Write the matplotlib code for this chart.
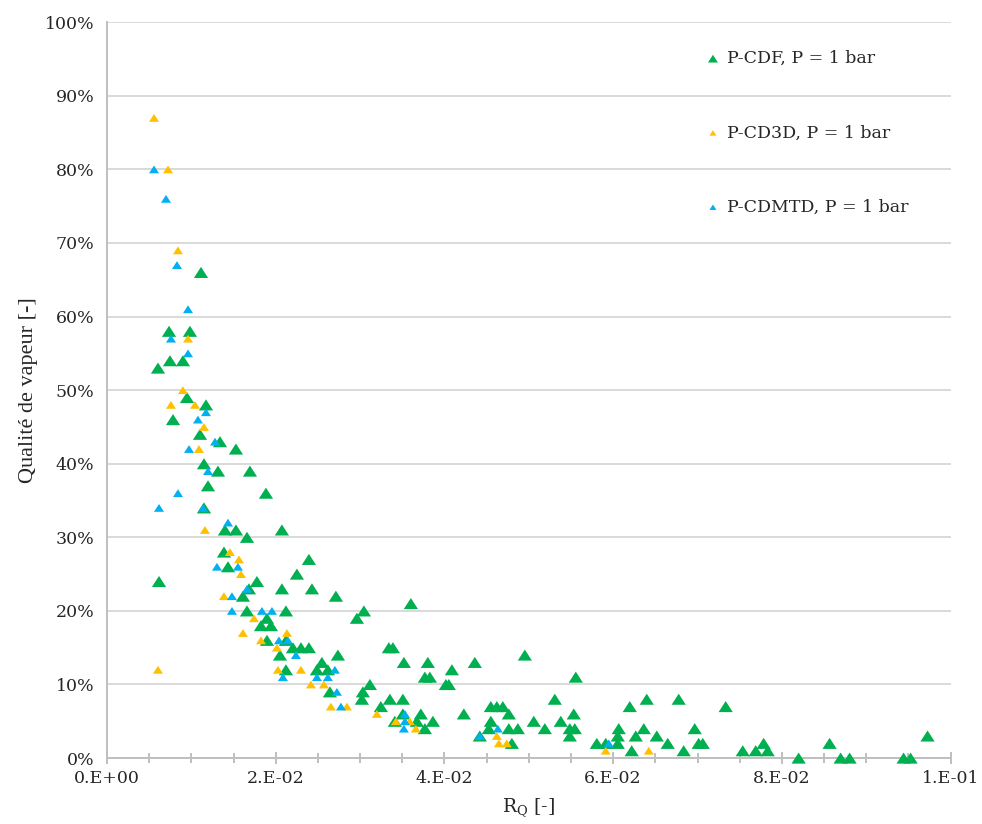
import numpy as np
import matplotlib
matplotlib.use("Agg")
import matplotlib.pyplot as plt
from matplotlib.path import Path
from matplotlib.ticker import MultipleLocator, FixedLocator, PercentFormatter

plt.rcParams['font.family'] = ['DejaVu Serif']
plt.rcParams['mathtext.fontset'] = 'dejavuserif'

# P-CDF, P = 1 bar  (x = R_Q, y = quality in %)
cdf_x = [0.01114, 0.00735, 0.00983, 0.00746, 0.00900, 0.00604, 0.00948, 0.01173, 0.00782, 0.01102,
         0.01339, 0.01528, 0.01149, 0.01315, 0.01694, 0.01197, 0.01884, 0.01149, 0.01398, 0.01528,
         0.02073, 0.01659, 0.01386, 0.01434, 0.02393, 0.00616, 0.01777, 0.02251, 0.01611, 0.02713,
         0.01682, 0.02073, 0.02429, 0.01659, 0.02121, 0.03045, 0.02962, 0.01896, 0.01825, 0.01943,
         0.03602, 0.01896, 0.02121, 0.02204, 0.02299, 0.02393, 0.03341, 0.03389, 0.02050, 0.02737,
         0.04953, 0.02547, 0.03519, 0.03803, 0.04360, 0.02121, 0.02488, 0.02618, 0.04088, 0.03768,
         0.03827, 0.05557, 0.03116, 0.04017, 0.04052, 0.02642, 0.03033, 0.03021, 0.03353, 0.03507,
         0.05308, 0.06398, 0.06777, 0.03246, 0.04550, 0.04621, 0.04692, 0.06197, 0.07334, 0.03507,
         0.03720, 0.04230, 0.04763, 0.05533, 0.03412, 0.03673, 0.03863, 0.04550, 0.05059, 0.05379,
         0.03768, 0.04526, 0.04763, 0.04870, 0.05190, 0.05486, 0.05545, 0.06066, 0.06363, 0.06967,
         0.04419, 0.05486, 0.06055, 0.06268, 0.06517, 0.09727, 0.04799, 0.05806, 0.05912, 0.06055,
         0.06647, 0.07014, 0.07062, 0.07784, 0.08566, 0.06220, 0.06836, 0.07536, 0.07690, 0.07832,
         0.08199, 0.08697, 0.08803, 0.09443, 0.09526]
cdf_y = [66, 58, 58, 54, 54, 53, 49, 48, 46, 44,
         43, 42, 40, 39, 39, 37, 36, 34, 31, 31,
         31, 30, 28, 26, 27, 24, 24, 25, 22, 22,
         23, 23, 23, 20, 20, 20, 19, 19, 18, 18,
         21, 16, 16, 15, 15, 15, 15, 15, 14, 14,
         14, 13, 13, 13, 13, 12, 12, 12, 12, 11,
         11, 11, 10, 10, 10, 9, 9, 8, 8, 8,
         8, 8, 8, 7, 7, 7, 7, 7, 7, 6,
         6, 6, 6, 6, 5, 5, 5, 5, 5, 5,
         4, 4, 4, 4, 4, 4, 4, 4, 4, 4,
         3, 3, 3, 3, 3, 3, 2, 2, 2, 2,
         2, 2, 2, 2, 2, 1, 1, 1, 1, 1,
         0, 0, 0, 0, 0]

# P-CD3D, P = 1 bar
cd3d_x = [0.00557, 0.00723, 0.00841, 0.00960, 0.00900, 0.00758, 0.01043, 0.01149, 0.01090, 0.01161,
          0.01457, 0.01564, 0.01588, 0.01386, 0.01742, 0.01611, 0.02133, 0.01825, 0.02014, 0.00604,
          0.02026, 0.02299, 0.02417, 0.02571, 0.02654, 0.02844, 0.03199, 0.03424, 0.03590, 0.03661,
          0.04621, 0.04645, 0.04739, 0.05912, 0.06422]
cd3d_y = [87, 80, 69, 57, 50, 48, 48, 45, 42, 31,
          28, 27, 25, 22, 19, 17, 17, 16, 15, 12,
          12, 12, 10, 10, 7, 7, 6, 5, 5, 4,
          3, 2, 2, 1, 1]

# P-CDMTD, P = 1 bar
cdmtd_x = [0.00557, 0.00699, 0.00829, 0.00960, 0.00758, 0.00960, 0.01173, 0.01078, 0.01280, 0.00972,
           0.01197, 0.00841, 0.00616, 0.01137, 0.01434, 0.01303, 0.01552, 0.01659, 0.01481, 0.01481,
           0.01836, 0.01955, 0.02038, 0.02145, 0.02239, 0.02701, 0.02085, 0.02488, 0.02618, 0.02725,
           0.02773, 0.03531, 0.03531, 0.03519, 0.04633, 0.04419, 0.05948]
cdmtd_y = [80, 76, 67, 61, 57, 55, 47, 46, 43, 42,
           39, 36, 34, 34, 32, 26, 26, 23, 22, 20,
           20, 20, 16, 16, 14, 12, 11, 11, 11, 9,
           7, 6, 5, 4, 4, 3, 2]

xtick_vals = [0.0, 0.02, 0.04, 0.06, 0.08, 0.10]
xtick_labels = ['0.E+00', '2.E-02', '4.E-02', '6.E-02', '8.E-02', '1.E-01']

# flat triangle like the spreadsheet markers
tri = Path([(0, 0.78), (-1, -0.78), (1, -0.78), (0, 0.78)],
           [Path.MOVETO, Path.LINETO, Path.LINETO, Path.CLOSEPOLY])

fig = plt.figure(figsize=(9.82, 8.24), dpi=100)
ax = fig.add_axes([0.109, 0.080, 0.859, 0.893])

ax.scatter(cdf_x, cdf_y, marker=tri, s=105, color='#00B050', edgecolors='none',
           label='P-CDF, P = 1 bar', zorder=3, clip_on=False)
ax.scatter(cd3d_x, cd3d_y, marker=tri, s=52, color='#FFC000', edgecolors='none',
           label='P-CD3D, P = 1 bar', zorder=4, clip_on=False)
ax.scatter(cdmtd_x, cdmtd_y, marker=tri, s=52, color='#00B0F0', edgecolors='none',
           label='P-CDMTD, P = 1 bar', zorder=5, clip_on=False)

ax.set_xlim(0, 0.1)
ax.set_ylim(0, 100)
ax.xaxis.set_major_locator(FixedLocator(xtick_vals))
ax.set_xticklabels(xtick_labels)
ax.xaxis.set_minor_locator(MultipleLocator(0.005))
ax.yaxis.set_major_locator(MultipleLocator(10))
ax.yaxis.set_major_formatter(PercentFormatter(decimals=0))

ax.grid(axis='y', color='#D9D9D9', linewidth=1.4, zorder=0)
ax.set_axisbelow(True)
for s in ['top', 'right']:
    ax.spines[s].set_visible(False)
for s in ['left', 'bottom']:
    ax.spines[s].set_color('#BFBFBF')
    ax.spines[s].set_linewidth(1.4)

ax.tick_params(axis='x', which='major', direction='inout', length=9, width=1.4,
               color='#BFBFBF', labelsize=12.5, labelcolor='#262626', pad=4)
ax.tick_params(axis='x', which='minor', direction='inout', length=6.5, width=1.4,
               color='#BFBFBF')
ax.tick_params(axis='y', length=0, labelsize=12.5, labelcolor='#262626', pad=9)

ax.set_xlabel('R$_\\mathregular{Q}$ [-]', fontsize=13.5, color='#262626', labelpad=7)
ax.set_ylabel('Qualité de vapeur [-]', fontsize=16, color='#262626',
              family='Liberation Serif', labelpad=5)

leg = ax.legend(loc='upper left', bbox_to_anchor=(0.708, 0.962), frameon=False,
                fontsize=12.5, labelspacing=3.3, handletextpad=0.3, handlelength=1.0,
                markerscale=0.7, borderaxespad=0, borderpad=0)
for t in leg.get_texts():
    t.set_color('#262626')

fig.savefig('out.png', dpi=100)
